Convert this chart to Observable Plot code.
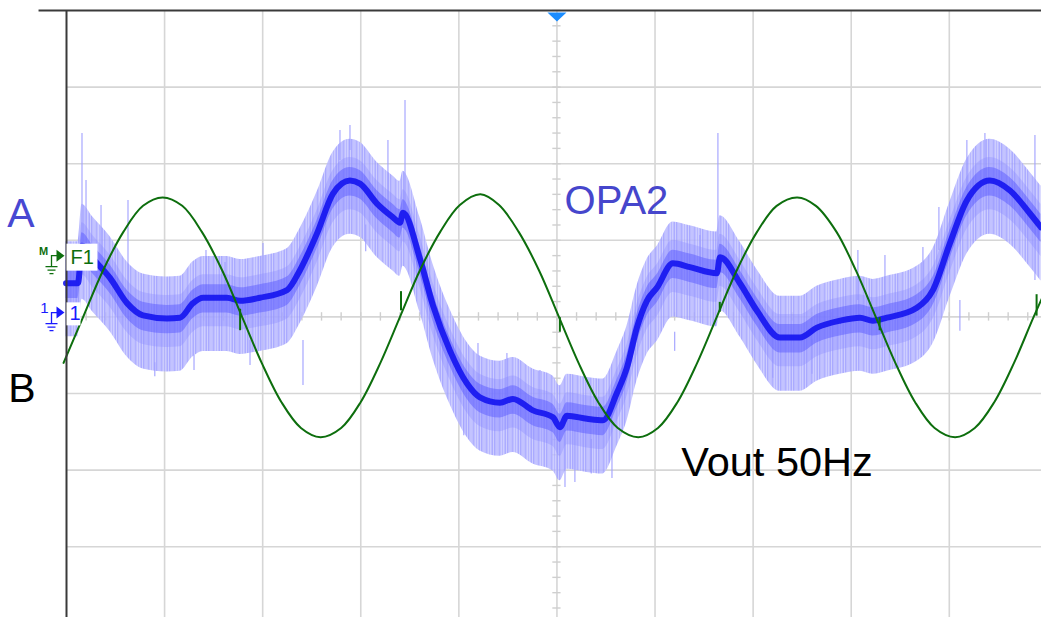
<!DOCTYPE html>
<html>
<head>
<meta charset="utf-8">
<script src="https://cdn.jsdelivr.net/npm/d3@7"></script>
<script src="https://cdn.jsdelivr.net/npm/@observablehq/plot@0.6"></script>
<style>
  html, body { margin: 0; padding: 0; background: #fff; overflow: hidden; }
  #chart svg { display: block; }
</style>
</head>
<body>
<div id="chart"></div>
<script>
// ---- Data (time and voltage in screen divisions) ----
// Green trace: Vout 50Hz
const voutT = [-5.03,-4.83,-4.63,-4.42,-4.22,-4.02,-3.82,-3.62,-3.41,-3.21,-3.01,-2.81,-2.61,-2.41,-2.20,-2.00,-1.80,-1.60,-1.40,-1.19,-0.99,-0.78,-0.59,-0.39,-0.18,0.02,0.22,0.42,0.62,0.83,1.03,1.23,1.43,1.63,1.83,2.04,2.24,2.45,2.64,2.85,3.05,3.25,3.45,3.65,3.85,4.06,4.26,4.46,4.66,4.86,5.07];
const voutV = [-0.60,0.00,0.60,1.11,1.45,1.56,1.45,1.11,0.60,0.00,-0.60,-1.11,-1.45,-1.57,-1.45,-1.11,-0.60,0.00,0.60,1.11,1.46,1.60,1.46,1.11,0.60,0.00,-0.60,-1.11,-1.45,-1.57,-1.45,-1.11,-0.60,0.00,0.60,1.11,1.45,1.56,1.45,1.11,0.60,0.00,-0.60,-1.11,-1.45,-1.57,-1.45,-1.11,-0.60,0.00,0.60];
// Small glitches on the green trace near zero crossings: time, top, bottom
const glitchT   = [-3.23, -1.59, 0.03, 1.66, 3.29, 4.89];
const glitchTop = [ 0.10,  0.33, -0.01, 0.19, -0.01, 0.29];
const glitchBot = [-0.18,  0.08, -0.20, 0.06, -0.18, 0.01];

// Blue trace: OPA2 (mean path)
const opaT = [-5.005,-4.883,-4.842,-4.730,-4.557,-4.383,-4.220,-3.976,-3.843,-3.710,-3.608,-3.364,-3.231,-3.028,-2.752,-2.620,-2.446,-2.283,-2.110,-2.008,-1.835,-1.672,-1.600,-1.570,-1.397,-1.264,-1.091,-0.917,-0.785,-0.581,-0.449,-0.245,-0.041,0.031,0.102,0.306,0.469,0.612,0.714,0.815,0.917,1.019,1.182,1.356,1.631,1.662,1.865,2.039,2.273,2.477,2.650,2.885,3.089,3.221,3.364,3.670,3.833,4.006,4.179,4.414,4.618,4.822,4.934];
const opaV = [0.44,0.44,0.93,0.76,0.51,0.18,0.02,-0.02,-0.01,0.18,0.25,0.25,0.21,0.25,0.35,0.61,1.09,1.61,1.78,1.74,1.48,1.30,1.23,1.36,0.76,0.15,-0.44,-0.87,-1.05,-1.12,-1.07,-1.22,-1.31,-1.44,-1.29,-1.33,-1.35,-0.99,-0.66,-0.14,0.21,0.38,0.70,0.65,0.57,0.78,0.44,0.08,-0.27,-0.27,-0.14,-0.05,-0.01,-0.05,-0.01,0.12,0.35,0.96,1.52,1.78,1.65,1.35,1.17];
// Noise spikes on the blue trace: time, top, bottom
const spikeT   = [-4.842,-4.801,-4.648,-4.373,-3.578,-3.384,-2.997,-3.129,-2.589,-1.549,-1.723,-0.805,-0.510,-0.173,0.082,0.183,0.561,1.641,1.458,3.068,3.344,3.731,3.894,4.179,4.363,4.873,4.108,-2.110,-2.212,-4.10,-3.70,-1.95,0.35,2.20,2.60,-0.95,1.20];
const spikeTop = [2.394,1.781,1.454,1.520,0.867,0.710,0.958,-0.307,-0.307,2.825,2.303,-0.347,-0.478,-0.700,-1.483,-1.483,-1.352,2.394,1.063,0.867,0.802,0.906,1.428,2.303,2.394,2.368,0.214,2.499,2.433,-0.60,-0.50,1.20,-1.60,-0.40,-0.30,-0.95,-0.20];
const spikeBot = [0.932,0.867,0.736,0.345,0.214,0.214,0.214,-0.634,-0.896,1.128,1.520,-1.091,-1.091,-1.222,-2.227,-2.162,-2.110,0.736,0.671,0.214,0.214,0.345,0.867,1.650,1.781,0.475,-0.188,2.172,2.042,-0.78,-0.70,0.85,-2.05,-0.80,-0.75,-1.55,-0.45];

// Grid
const gridX = [-4,-3,-2,-1,0,1,2,3,4];
const gridY = [-3,-2,-1,0,1,2,3];

// Labels
const labelText  = ["A", "B", "OPA2", "Vout 50Hz"];
const labelX     = [-5.464, -5.454, 0.078, 1.268];
const labelY     = [1.35, -0.94, 1.51, -1.90];
const labelColor = ["#4848d2", "#000000", "#4646cc", "#000000"];
const labelSize  = [41, 41, 40, 41.5];
const labelAnchor= ["middle", "middle", "start", "start"];

// ---- Build tables ----
const vout = voutT.map((t, i) => ({t, v: voutV[i]}));
const glitches = glitchT.map((t, i) => ({t, y1: glitchTop[i], y2: glitchBot[i]}));
const opa = opaT.map((t, i) => ({t, v: opaV[i]}));
const spikes = spikeT.map((t, i) => ({t, y1: spikeTop[i], y2: spikeBot[i]}));
const labels = labelText.map((s, i) => ({s, x: labelX[i], y: labelY[i], c: labelColor[i], f: labelSize[i], a: labelAnchor[i]}));
const minorX = d3.range(-5, 5.01, 0.2);
const minorY = d3.range(-4, 4.01, 0.2);

// custom symbols
const flatTri = {draw(ctx) { ctx.moveTo(-9.5, -4.5); ctx.lineTo(9.5, -4.5); ctx.lineTo(0, 4.5); ctx.closePath(); }};
const arrowR = {draw(ctx) { ctx.moveTo(-4, -6); ctx.lineTo(4, 0); ctx.lineTo(-4, 6); ctx.closePath(); }};
const ground = {draw(ctx) {
  ctx.moveTo(-3, 0); ctx.lineTo(-9, 0); ctx.lineTo(-9, 11);
  ctx.moveTo(-15, 11); ctx.lineTo(-3, 11);
  ctx.moveTo(-13, 14.5); ctx.lineTo(-5, 14.5);
  ctx.moveTo(-11, 18); ctx.lineTo(-7, 18);
}};
const boxF1 = {draw(ctx) { ctx.rect(-15.5, -13.5, 31, 27); }};
const box1 = {draw(ctx) { ctx.rect(-7, -11.5, 14, 23); }};

const font = "'Liberation Sans', Arial, sans-serif";
const green = "#0d6e0d";
const blueCh = "#1a1aff";

const chart = Plot.plot({
  width: 1041,
  height: 617,
  marginLeft: 66,
  marginRight: 0,
  marginTop: 10,
  marginBottom: 0,
  x: {domain: [-5, 4.94], axis: null},
  y: {domain: [-3.924, 4], axis: null},
  style: {background: "#ffffff", fontFamily: font, overflow: "visible"},
  marks: [
    // grid
    Plot.ruleX(gridX, {stroke: "#d6d6d6", strokeWidth: 1.6}),
    Plot.ruleY(gridY, {stroke: "#d6d6d6", strokeWidth: 1.6}),
    Plot.ruleX(minorX, {y1: -0.055, y2: 0.055, stroke: "#cfcfcf", strokeWidth: 1.4}),
    Plot.ruleY(minorY, {x1: -0.042, x2: 0.042, stroke: "#cfcfcf", strokeWidth: 1.4}),
    // blue trace (OPA2)
    Plot.areaY(opa, {x: "t", y1: d => d.v - 0.70, y2: d => d.v + 0.54, curve: "monotone-x", fill: "url(#streaks)"}),
    Plot.ruleX(spikes, {x: "t", y1: "y1", y2: "y2", stroke: "#a0a0ff", strokeWidth: 1.3, strokeOpacity: 0.85}),
    Plot.areaY(opa, {x: "t", y1: d => d.v - 0.38, y2: d => d.v + 0.30, curve: "monotone-x", fill: "#8a8aff", fillOpacity: 0.35}),
    Plot.areaY(opa, {x: "t", y1: d => d.v - 0.20, y2: d => d.v + 0.17, curve: "monotone-x", fill: "#5a5aff", fillOpacity: 0.5}),
    Plot.line(opa, {x: "t", y: "v", curve: "monotone-x", stroke: "#1414f0", strokeWidth: 6, strokeOpacity: 0.9}),
    // green trace (Vout)
    Plot.line(vout, {x: "t", y: "v", curve: "catmull-rom", stroke: green, strokeWidth: 2}),
    Plot.ruleX(glitches, {x: "t", y1: "y1", y2: "y2", stroke: green, strokeWidth: 2}),
    // frame lines
    Plot.ruleX([-5], {stroke: "#3a3a3a", strokeWidth: 2}),
    Plot.ruleY([4], {x1: -5.28, x2: 4.94, stroke: "#3a3a3a", strokeWidth: 2}),
    // trigger marker
    Plot.dot([0], {x: d => d, y: 4, dy: 6.5, symbol: flatTri, fill: "#1a8cff"}),
    // channel markers
    Plot.dot([0.78], {x: -5, y: d => d, dx: 15.5, symbol: boxF1, fill: "#ffffff"}),
    Plot.text(["F1"], {x: -5, y: 0.78, dx: 4, text: d => d, textAnchor: "start", fill: green, fontSize: 20, fontFamily: font}),
    Plot.dot([0.04], {x: -5, y: d => d, dx: 7, symbol: box1, fill: "#ffffff"}),
    Plot.text(["1"], {x: -5, y: 0.04, dx: 3, text: d => d, textAnchor: "start", fill: blueCh, fontSize: 20, fontFamily: font}),
    Plot.dot([0.80], {x: -5, y: d => d, dx: -6, symbol: arrowR, fill: green}),
    Plot.dot([0.80], {x: -5, y: d => d, dx: -6, symbol: ground, fill: "none", stroke: green, strokeWidth: 1.3}),
    Plot.text(["M"], {x: -5, y: 0.86, dx: -23, text: d => d, fill: green, fontSize: 11, fontWeight: "bold", fontFamily: font}),
    Plot.dot([0.057], {x: -5, y: d => d, dx: -6, symbol: arrowR, fill: blueCh}),
    Plot.dot([0.057], {x: -5, y: d => d, dx: -6, symbol: ground, fill: "none", stroke: blueCh, strokeWidth: 1.3}),
    Plot.text(["1"], {x: -5, y: 0.11, dx: -22, text: d => d, fill: blueCh, fontSize: 15, fontFamily: font}),
    // labels
    Plot.text(labels, {x: "x", y: "y", text: "s", fill: "c", fontSize: "f", textAnchor: "start", fontFamily: font,
      filter: d => d.a === "start"}),
    Plot.text(labels, {x: "x", y: "y", text: "s", fill: "c", fontSize: "f", textAnchor: "middle", fontFamily: font,
      filter: d => d.a === "middle"})
  ]
});

// streaky texture for the noise envelope of the blue trace
const defs = d3.select(chart).insert("defs", ":first-child");
const pat = defs.append("pattern").attr("id", "streaks").attr("patternUnits", "userSpaceOnUse")
  .attr("width", 13).attr("height", 617);
pat.append("rect").attr("width", 13).attr("height", 617).attr("fill", "#c2c2ff").attr("fill-opacity", 0.8);
[[0, 1.5, 0.55], [2.5, 1, 0.3], [4.5, 2, 0.45], [8, 1, 0.35], [10.5, 1.5, 0.5]].forEach(([x, w, o]) =>
  pat.append("rect").attr("x", x).attr("width", w).attr("height", 617).attr("fill", "#8c8cff").attr("fill-opacity", o));

document.getElementById("chart").appendChild(chart);
</script>
</body>
</html>
